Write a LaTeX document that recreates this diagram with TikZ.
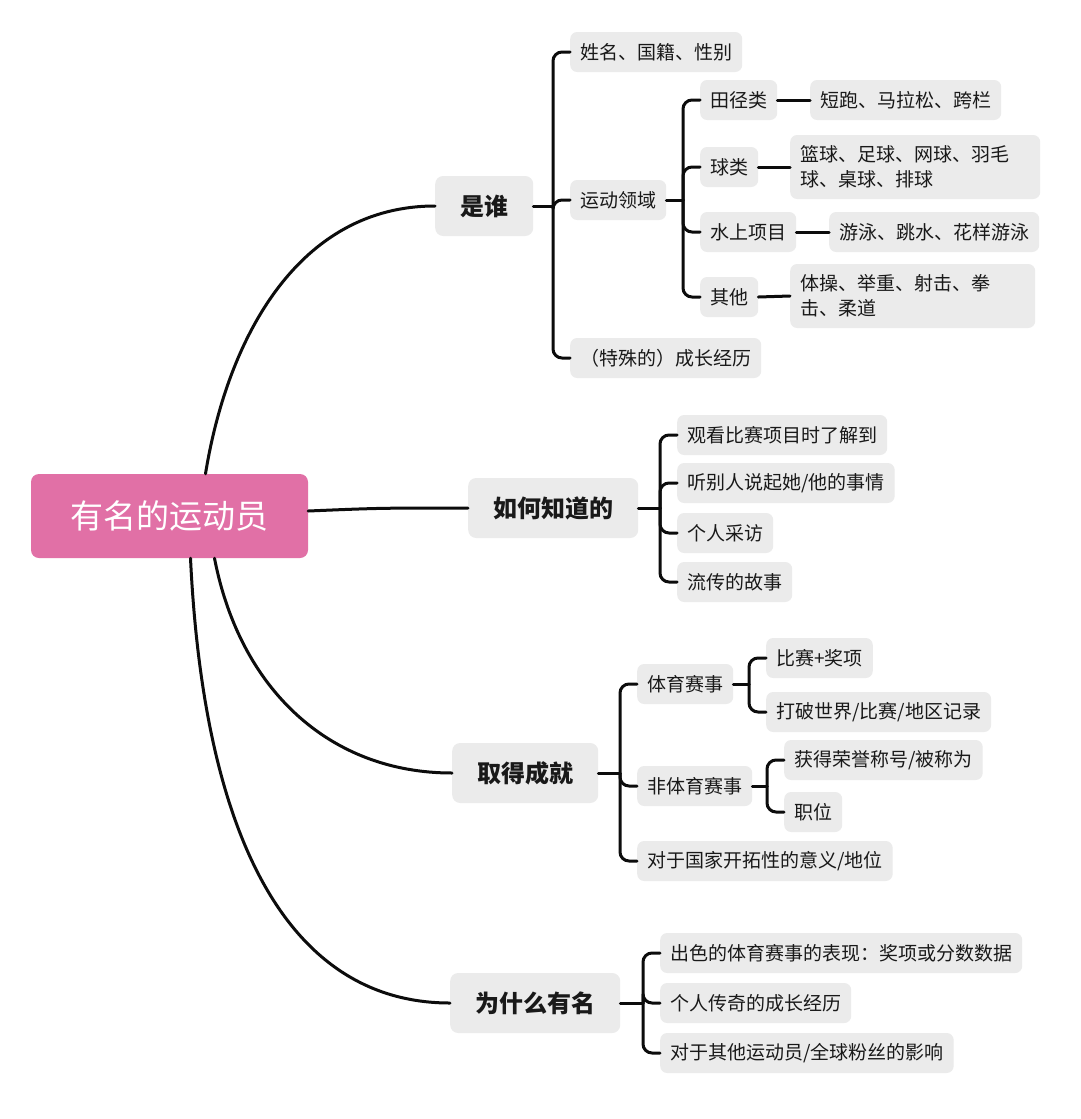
\documentclass[tikz,border=0pt]{standalone}
\usepackage{fontspec}
\setmainfont{Noto Sans CJK SC}
\usetikzlibrary{calc,backgrounds}
\definecolor{boxgray}{RGB}{235,235,235}
\definecolor{txt}{RGB}{25,25,25}
\definecolor{rootpink}{RGB}{225,112,166}
\definecolor{linec}{RGB}{12,12,12}
\tikzset{
  leaf/.style={fill=boxgray, rounded corners=7pt, anchor=west, minimum height=40pt,
    inner xsep=10pt, inner ysep=0pt, text=txt, font=\fontsize{19}{25}\selectfont},
  mainbox/.style={fill=boxgray, rounded corners=8pt, anchor=west, minimum height=60pt,
    inner xsep=25pt, inner ysep=0pt, text=txt, font=\bfseries\fontsize{24}{28}\selectfont},
  rootbox/.style={fill=rootpink, rounded corners=8pt, minimum width=277pt, minimum height=84pt,
    inner sep=0pt, text=white, font=\fontsize{33}{36}\selectfont},
  conn/.style={draw=linec, line width=3pt, line cap=round},
  brk/.style={conn, rounded corners=9pt}
}
\begin{document}
\begin{tikzpicture}[x=1pt,y=-1pt]
\useasboundingbox[fill=white] (0,0) rectangle (1080,1119);

% root
\node[rootbox] (root) at (169.5,516) {有名的运动员};

% level 1
\node[mainbox] (shi) at (435,206) {是谁};
\node[mainbox] (how) at (468,508) {如何知道的};
\node[mainbox] (ach) at (452,773) {取得成就};
\node[mainbox] (why) at (450,1003) {为什么有名};

% 是谁 children
\node[leaf] (xm) at (570,52) {姓名、国籍、性别};
\node[leaf] (yd) at (570,200) {运动领域};
\node[leaf] (cz) at (570,358) {（特殊的）成长经历};

% 运动领域 children
\node[leaf] (tj) at (700,100) {田径类};
\node[leaf] (ql) at (700,167) {球类};
\node[leaf] (ss) at (700,232) {水上项目};
\node[leaf] (qt) at (700,297) {其他};

\node[leaf] (dp) at (810,100) {短跑、马拉松、跨栏};
\node[leaf, minimum height=64pt, text width=230pt, align=left] (lq) at (790,167) {篮球、足球、网球、羽毛\\球、桌球、排球};
\node[leaf] (yy) at (829,232) {游泳、跳水、花样游泳};
\node[leaf, minimum height=64pt, text width=225pt, align=left] (tc) at (790,296) {体操、举重、射击、拳\\击、柔道};

% 如何知道的 children
\node[leaf] (h1) at (677,435) {观看比赛项目时了解到};
\node[leaf] (h2) at (677,483) {听别人说起她/他的事情};
\node[leaf] (h3) at (677,533) {个人采访};
\node[leaf] (h4) at (677,582) {流传的故事};

% 取得成就 children
\node[leaf] (a1) at (637,684) {体育赛事};
\node[leaf] (a2) at (637,786) {非体育赛事};
\node[leaf] (a3) at (637,861) {对于国家开拓性的意义/地位};
\node[leaf] (a11) at (766,658) {比赛+奖项};
\node[leaf] (a12) at (766,712) {打破世界/比赛/地区记录};
\node[leaf] (a21) at (784,760) {获得荣誉称号/被称为};
\node[leaf] (a22) at (784,812) {职位};

% 为什么有名 children
\node[leaf] (w1) at (660,953) {出色的体育赛事的表现：奖项或分数数据};
\node[leaf] (w2) at (660,1003) {个人传奇的成长经历};
\node[leaf] (w3) at (660,1053) {对于其他运动员/全球粉丝的影响};

% root connectors
\draw[conn] ([xshift=36pt]root.north) .. controls (228,335) and (300,206) .. (shi.west);
\draw[conn] ([yshift=5pt]root.east) .. controls (380,508) .. (how.west);
\draw[conn] ([xshift=45pt]root.south) .. controls (240,690) and (330,773) .. (ach.west);
\draw[conn] ([xshift=21pt]root.south) .. controls (205,860) and (300,1003) .. (why.west);

% brackets
\coordinate (b1) at ($(xm.west |- shi.east)+(-17,0)$);
\draw[conn] (shi.east) -- (b1);
\foreach \c in {xm,yd,cz} \draw[brk] (b1) |- (\c.west);

\coordinate (b2) at ($(tj.west |- yd.east)+(-17,0)$);
\draw[conn] (yd.east) -- (b2);
\foreach \c in {tj,ql,ss,qt} \draw[brk] (b2) |- (\c.west);

\draw[conn] (tj.east) -- (dp.west);
\draw[conn] (ql.east) -- (lq.west);
\draw[conn] (ss.east) -- (yy.west);
\draw[conn] (qt.east) -- (tc.west);

\coordinate (b3) at ($(h1.west |- how.east)+(-17,0)$);
\draw[conn] (how.east) -- (b3);
\foreach \c in {h1,h2,h3,h4} \draw[brk] (b3) |- (\c.west);

\coordinate (b4) at ($(a1.west |- ach.east)+(-17,0)$);
\draw[conn] (ach.east) -- (b4);
\foreach \c in {a1,a2,a3} \draw[brk] (b4) |- (\c.west);

\coordinate (b5) at ($(a11.west |- a1.east)+(-17,0)$);
\draw[conn] (a1.east) -- (b5);
\foreach \c in {a11,a12} \draw[brk] (b5) |- (\c.west);

\coordinate (b6) at ($(a21.west |- a2.east)+(-17,0)$);
\draw[conn] (a2.east) -- (b6);
\foreach \c in {a21,a22} \draw[brk] (b6) |- (\c.west);

\coordinate (b7) at ($(w1.west |- why.east)+(-17,0)$);
\draw[conn] (why.east) -- (b7);
\foreach \c in {w1,w2,w3} \draw[brk] (b7) |- (\c.west);
\end{tikzpicture}
\end{document}
